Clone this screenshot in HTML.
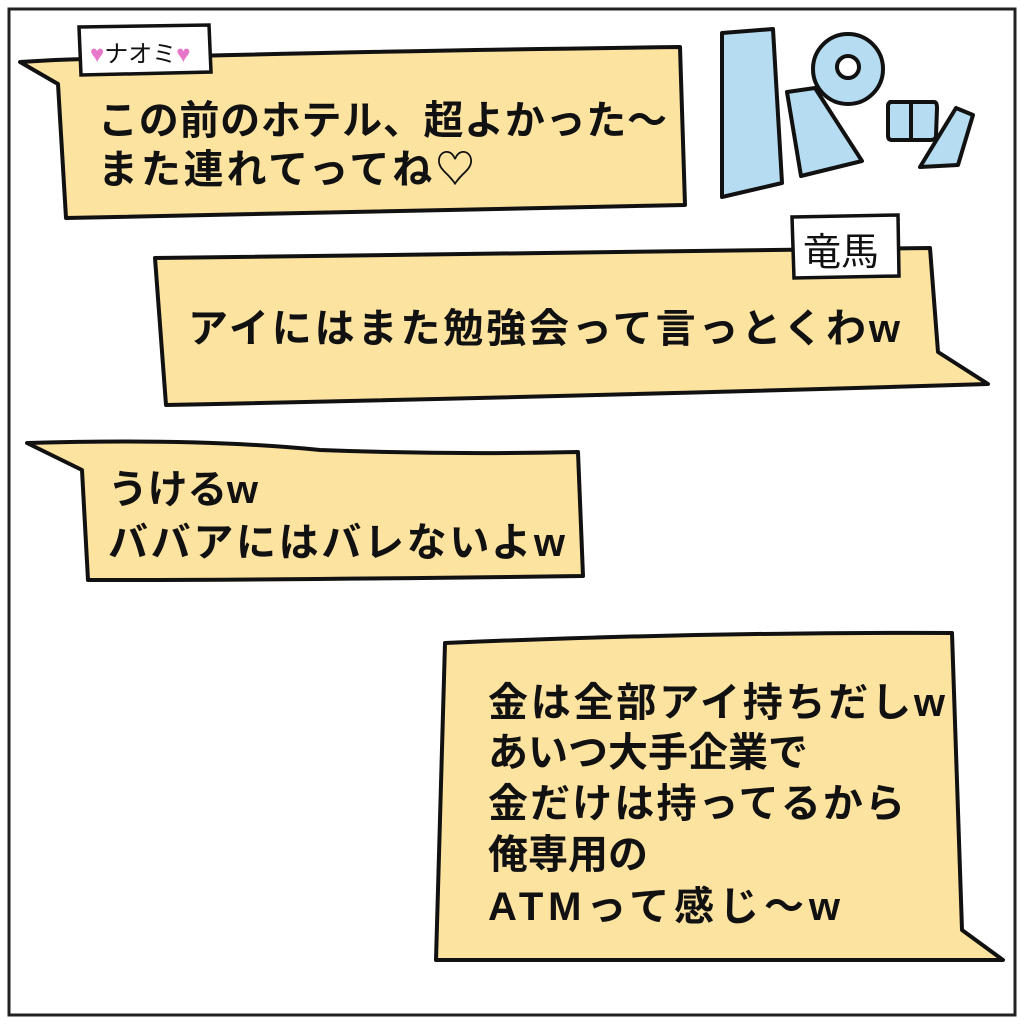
<!DOCTYPE html>
<html><head><meta charset="utf-8"><style>
html,body{margin:0;padding:0;background:#fff}
svg{display:block}
text{font-family:"Liberation Sans","Noto Sans CJK JP",sans-serif;font-weight:bold;font-size:40px;fill:#111}
</style></head><body>
<svg width="1024" height="1024" viewBox="0 0 1024 1024" xmlns="http://www.w3.org/2000/svg">
<rect x="0" y="0" width="1024" height="1024" fill="#fff"/>
<rect x="9" y="9" width="1006" height="1006" fill="none" stroke="#222" stroke-width="3"/>
<g stroke="#111" stroke-width="4" stroke-linejoin="round" fill="#fde3a0">
<path d="M20,62 L55,60 Q300,52 680,47 L685,205 Q400,212 66,218 L58,84 Z"/>
<path d="M155,258 Q500,252 930,248 L938,352 L988,384 Q600,396 166,405 Z"/>
<path d="M27,443 Q200,438 320,450 Q450,455 578,452 L583,576 Q300,580 88,580 L82,470 Z"/>
<path d="M445,643 Q700,632 952,633 L962,930 L1003,960 Q700,960 436,960 Z"/>
</g>
<g stroke="#111" stroke-width="3.5" fill="#fff">
<path d="M79,27 L209,25 L211,72 L81,75 Z"/>
<path d="M792,217 L898,215 L899,276 L794,278 Z"/>
</g>
<text x="90" y="62" style="font-size:24px;font-weight:normal"><tspan fill="#e777c8">♥</tspan>ナオミ<tspan fill="#e777c8">♥</tspan></text>
<text x="803" y="265" style="font-size:38px;font-weight:normal">竜馬</text>
<g stroke="#111" stroke-width="4" stroke-linejoin="round" fill="#b5dcf0">
<path d="M722,33 L773,29 L782,183 L722,197 Z"/>
<path d="M787,92 L815,88 L862,161 L801,176 Z"/>
<circle cx="848" cy="69" r="35"/>
<circle cx="848" cy="67" r="11" fill="#fff"/>
<path d="M890,102 L934,102 Q937,102 937,108 L936,136 Q936,140 930,140 L892,140 Q888,140 888,136 L888,106 Q888,102 892,102 Z"/>
<line x1="911" y1="103" x2="911" y2="139"/>
<path d="M956,108 L973,115 L958,165 L920,167 Z"/>
</g>
<text x="98" y="134" textLength="569" lengthAdjust="spacing">この前のホテル、超よかった〜</text>
<text x="98" y="183" textLength="377" lengthAdjust="spacing">また連れてってね♡</text>
<text x="188" y="342" textLength="712" lengthAdjust="spacing">アイにはまた勉強会って言っとくわw</text>
<text x="108" y="503" textLength="150" lengthAdjust="spacing">うけるw</text>
<text x="108" y="556" textLength="457" lengthAdjust="spacing">ババアにはバレないよw</text>
<text x="488" y="716" textLength="457" lengthAdjust="spacing">金は全部アイ持ちだしw</text>
<text x="488" y="766">あいつ大手企業で</text>
<text x="488" y="817" textLength="417" lengthAdjust="spacing">金だけは持ってるから</text>
<text x="488" y="868">俺専用の</text>
<text x="488" y="920" textLength="352" lengthAdjust="spacing">ATMって感じ〜w</text>
</svg>
</body></html>
